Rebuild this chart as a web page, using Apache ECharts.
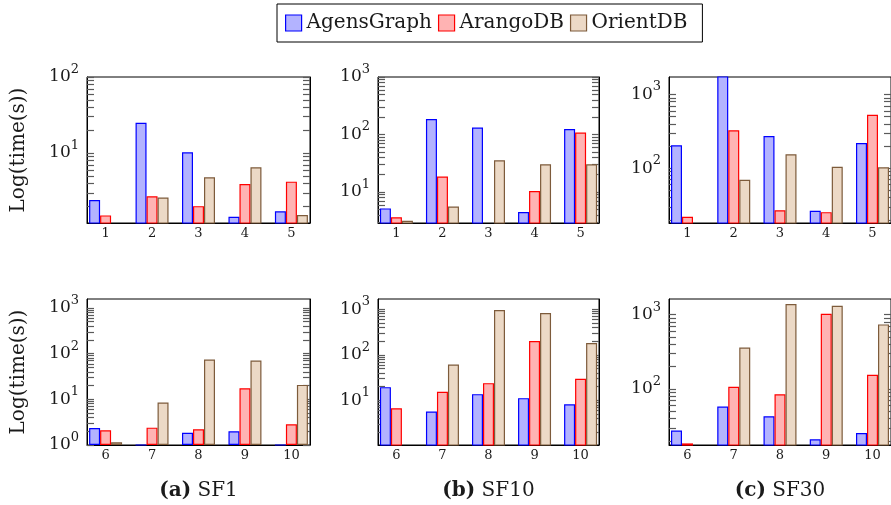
<!DOCTYPE html>
<html>
<head>
<meta charset="utf-8">
<script src="https://cdn.jsdelivr.net/npm/echarts@6/dist/echarts.min.js"></script>
<style>
  html, body { margin: 0; padding: 0; background: #fff; }
  #main { width: 891px; height: 505px; }
</style>
</head>
<body>
<div id="main"></div>
<script>
// queries shown in each row of panels
var queriesTop = [1, 2, 3, 4, 5];
var queriesBottom = [6, 7, 8, 9, 10];
var dbNames = ['AgensGraph', 'ArangoDB', 'OrientDB'];
var captionTags = ['(a)', '(b)', '(c)'];
var captions = ['SF1', 'SF10', 'SF30'];

// run time in seconds for queries 1..10
var agensSF1   = [2.4, 25, 10.2, 1.45, 1.71, 2.36, 1.0, 1.86, 2.0, 1.0];
var arangoSF1  = [1.51, 2.7, 2.0, 3.9, 4.2, 2.1, 2.4, 2.21, 17.5, 2.84];
var orientSF1  = [1.2, 2.6, 4.8, 6.5, 1.53, 1.15, 8.5, 74, 70.6, 20.7];

var agensSF10  = [5.2, 186, 132, 4.5, 125, 19.5, 5.7, 13.7, 11.2, 8.2];
var arangoSF10 = [3.65, 18.6, 2.9, 10.4, 108, 6.7, 15.4, 23.9, 200, 29.7];
var orientSF10 = [3.16, 5.6, 35.7, 30.4, 30.4, 1.05, 61, 960, 825, 181];

var agensSF30  = [205, 2000, 273, 26.5, 220, 27.5, 58, 43, 21, 25.5];
var arangoSF30 = [22, 327, 27, 25.4, 531, 18.5, 107, 85, 1030, 155];
var orientSF30 = [18.1, 70, 155, 105, 103, 17.6, 360, 1390, 1320, 740];

// major ticks of the log axes
var decades = [1, 10, 100, 1000];
// y range of each panel, top row then bottom row
var yMin = [1.2, 2.9, 18.1, 1, 1.05, 17.6];
var yMax = [100, 1000, 1730, 1570, 1675, 1625];

var font = 'DejaVu Serif';
var textColor = '#1a1a1a';
var fills = ['#b3b3ff', '#ffb3b3', '#ecd9c6'];
var strokes = ['#0000ff', '#ff0000', '#7d5b3b'];
var colLeft = [87, 378, 669];
var colWidth = [223, 221, 222];
var rowTop = [77, 299];
var plotHeight = 146;

var dbData = [
  [agensSF1, arangoSF1, orientSF1],
  [agensSF10, arangoSF10, orientSF10],
  [agensSF30, arangoSF30, orientSF30]
];

function inRange(v, lo, hi) {
  return v >= lo * 0.999 && v <= hi * 1.001;
}
function majorTicks(lo, hi) {
  return decades.filter(function (d) { return inRange(d, lo, hi); });
}
function minorTicks(lo, hi) {
  var t = [];
  decades.forEach(function (d) {
    for (var m = 1; m < 10; m++) {
      if (inRange(m * d, lo, hi)) t.push(m * d);
    }
  });
  return t;
}
// an unlabeled log axis that only carries the inner tick marks
function tickAxis(p, side) {
  return {
    type: 'log', logBase: 10, gridIndex: p, position: side,
    min: yMin[p], max: yMax[p],
    axisLine: { show: true, lineStyle: { color: '#000', width: 1 } },
    splitLine: { show: false },
    axisTick: {
      show: true, inside: true, length: 7,
      customValues: minorTicks(yMin[p], yMax[p]),
      lineStyle: { color: '#5a5a5a', width: 1.2 }
    },
    axisLabel: { show: false }
  };
}

var grids = [], xAxes = [], yAxes = [], series = [], titles = [];

for (var row = 0; row < 2; row++) {
  for (var col = 0; col < 3; col++) {
    var p = row * 3 + col;
    var queries = row === 0 ? queriesTop : queriesBottom;
    grids.push({
      left: colLeft[col], top: rowTop[row],
      width: colWidth[col], height: plotHeight,
      show: true, borderColor: '#000', borderWidth: 1,
      backgroundColor: 'transparent',
      containLabel: false, outerBoundsMode: 'none'
    });
    xAxes.push({
      type: 'value', gridIndex: p,
      min: queries[0] - 0.4, max: queries[queries.length - 1] + 0.4,
      splitLine: { show: false },
      axisLine: { show: true, lineStyle: { color: '#000', width: 1 } },
      axisTick: { show: false },
      axisLabel: {
        customValues: queries,
        fontFamily: font, fontSize: 13, color: textColor, margin: 4
      }
    });
    var labelAxis = {
      type: 'log', logBase: 10, gridIndex: p, position: 'left',
      min: yMin[p], max: yMax[p],
      axisLine: { show: false },
      splitLine: { show: false },
      axisTick: { show: false },
      axisLabel: {
        customValues: majorTicks(yMin[p], yMax[p]),
        margin: 8,
        formatter: function (v) {
          return '{b|10}{sup|' + Math.round(Math.log10(v)) + '}';
        },
        rich: {
          b: { fontFamily: font, fontSize: 17, lineHeight: 28, color: textColor, verticalAlign: 'middle' },
          sup: { fontFamily: font, fontSize: 13, lineHeight: 13, color: textColor, verticalAlign: 'top' }
        }
      }
    };
    if (col === 0) {
      labelAxis.name = 'Log(time(s))';
      labelAxis.nameLocation = 'middle';
      labelAxis.nameGap = 58;
      labelAxis.nameTextStyle = { fontFamily: font, fontSize: 20, color: textColor };
    }
    yAxes.push(labelAxis);
    yAxes.push(tickAxis(p, 'left'));
    yAxes.push(tickAxis(p, 'right'));
    for (var k = 0; k < 3; k++) {
      var vals = dbData[col][k].slice(row * 5, row * 5 + 5);
      series.push({
        type: 'bar', name: dbNames[k],
        xAxisIndex: p, yAxisIndex: p * 3,
        barWidth: 11, barGap: '0%',
        clip: true,
        itemStyle: { color: fills[k], borderColor: strokes[k], borderWidth: 1.2 },
        data: queries.map(function (q, i) { return [q, vals[i]]; })
      });
    }
  }
}

for (var c = 0; c < 3; c++) {
  titles.push({
    text: '{b|' + captionTags[c] + '} ' + captions[c],
    left: colLeft[c] + colWidth[c] / 2 - 5,
    top: 476,
    textAlign: 'center',
    textStyle: {
      fontFamily: font, fontSize: 20, fontWeight: 'normal', color: textColor,
      rich: { b: { fontFamily: font, fontSize: 20, fontWeight: 'bold', color: textColor } }
    }
  });
}

var myChart = echarts.init(document.getElementById('main'));
myChart.setOption({
  animation: false,
  title: titles,
  legend: {
    data: dbNames,
    left: 277, top: 4,
    padding: [9, 15, 9, 8],
    itemWidth: 16, itemHeight: 16, itemGap: 6,
    icon: 'rect',
    borderColor: '#000', borderWidth: 1,
    itemStyle: { borderWidth: 1.2 },
    textStyle: { fontFamily: font, fontSize: 20, color: textColor }
  },
  grid: grids,
  xAxis: xAxes,
  yAxis: yAxes,
  series: series
});
</script>
</body>
</html>
